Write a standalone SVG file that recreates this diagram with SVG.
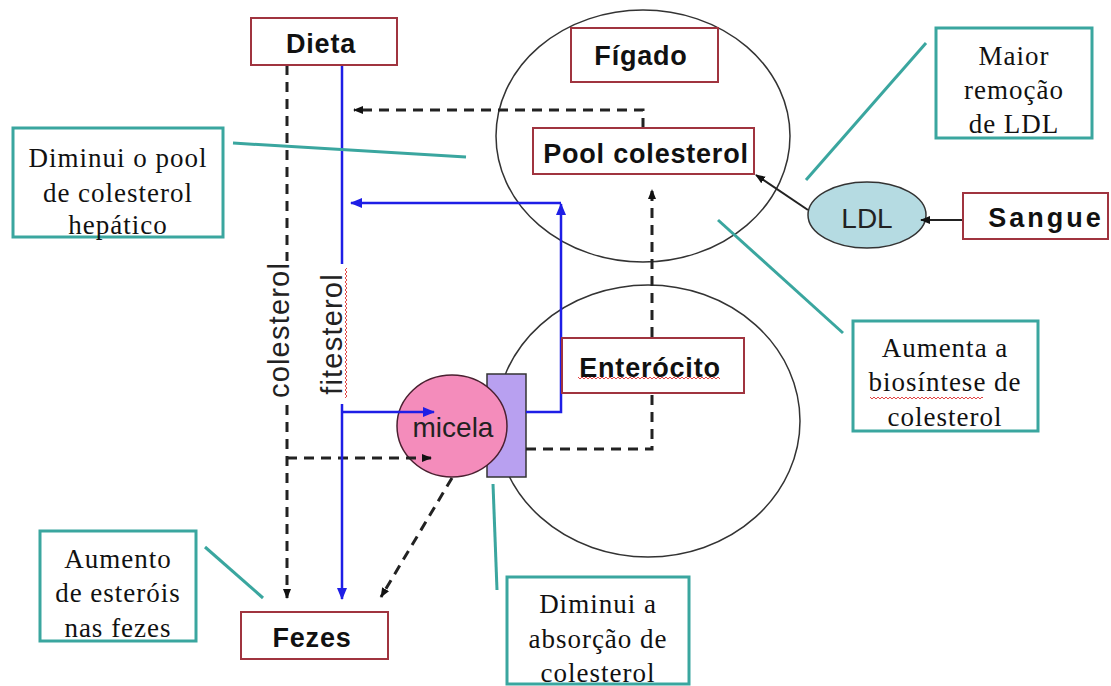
<svg xmlns="http://www.w3.org/2000/svg" width="1111" height="686" viewBox="0 0 1111 686">
<style>
.rbox{fill:#fff;stroke:#a0343f;stroke-width:2}
.tbox{fill:#fff;stroke:#3aa69f;stroke-width:3}
.lbl{font-family:"Liberation Sans",Arial,sans-serif;font-weight:bold;font-size:27px;letter-spacing:0.8px;fill:#111;text-anchor:middle}
.ser{font-family:"Liberation Serif","Times New Roman",serif;font-size:27px;letter-spacing:1px;fill:#111;text-anchor:middle}
.sans{font-family:"Liberation Sans",Arial,sans-serif;font-size:28px;fill:#222;text-anchor:middle}
.vt{font-family:"Liberation Sans",Arial,sans-serif;font-size:29px;letter-spacing:1.2px;fill:#222;text-anchor:middle}
.org{fill:none;stroke:#333;stroke-width:1.5}
.dash{fill:none;stroke:#222;stroke-width:3;stroke-dasharray:10 7}
.blue{fill:none;stroke:#1e1ee6;stroke-width:2.5}
.solid{fill:none;stroke:#222;stroke-width:2}
.teal{fill:none;stroke:#3aa69f;stroke-width:3}
</style>
<defs>
<marker id="ak" markerWidth="10" markerHeight="10" refX="9" refY="5" orient="auto" markerUnits="userSpaceOnUse" viewBox="0 0 10 10"><path d="M0,1 L10,5 L0,9 z" fill="#111"/></marker>
<marker id="ab" markerWidth="12" markerHeight="12" refX="11" refY="6" orient="auto" markerUnits="userSpaceOnUse" viewBox="0 0 12 12"><path d="M0,1 L12,6 L0,11 z" fill="#1e1ee6"/></marker>
<pattern id="wh" width="4" height="4" patternUnits="userSpaceOnUse"><path d="M0,3 L2,1 L4,3" fill="none" stroke="#e03030" stroke-width="0.9"/></pattern>
<pattern id="wv" width="4" height="4" patternUnits="userSpaceOnUse"><path d="M3,0 L1,2 L3,4" fill="none" stroke="#e03030" stroke-width="0.9"/></pattern>
</defs>
<rect width="1111" height="686" fill="#fff"/>

<g id="figado-organ"><ellipse class="org" cx="643" cy="136" rx="147" ry="126"/></g>
<g id="enterocito-organ"><ellipse class="org" cx="648" cy="421" rx="152" ry="136"/></g>
<g id="membrana"><rect x="487" y="374" width="39" height="103" fill="#b8a0f0" stroke="#333" stroke-width="1.5"/></g>
<g id="micela"><ellipse cx="452" cy="426" rx="55" ry="51" fill="#f48cbb" stroke="#4a2030" stroke-width="1.5"/><text class="sans" x="453" y="437">micela</text></g>
<g id="ldl"><ellipse cx="867" cy="215" rx="59" ry="33" fill="#b5dbe2" stroke="#333" stroke-width="1.5"/><text class="sans" x="867" y="228">LDL</text></g>

<g id="connectors">
<path class="dash" d="M287,65 V598" marker-end="url(#ak)"/>
<path class="dash" d="M287,458 H431" marker-end="url(#ak)"/>
<path class="dash" d="M643,128 V110 H354" marker-end="url(#ak)"/>
<path class="dash" d="M526,449 H652 V190" marker-end="url(#ak)"/>
<path class="dash" d="M452,478 L381,597" marker-end="url(#ak)"/>
<path class="blue" d="M342,65 V599" marker-end="url(#ab)"/>
<path class="blue" d="M342,412 H434" marker-end="url(#ab)"/>
<path class="blue" d="M526,412 H561 V204" marker-end="url(#ab)"/>
<path class="blue" d="M561,203 H351" marker-end="url(#ab)"/>
<path class="solid" d="M963,220 H921" marker-end="url(#ak)"/>
<path class="solid" d="M808,210 L756,175" marker-end="url(#ak)"/>
<path class="teal" d="M233,143 L466,157"/>
<path class="teal" d="M926,43 L806,180"/>
<path class="teal" d="M718,220 L843,333"/>
<path class="teal" d="M493,484 L497,590"/>
<path class="teal" d="M205,547 L263,598"/>
</g>

<g id="colesterol-label">
<rect x="267" y="261" width="25" height="139" fill="#fff"/>
<text class="vt" transform="translate(289,330) rotate(-90)">colesterol</text>
</g>
<g id="fitesterol-label">
<rect x="319" y="264" width="27" height="140" fill="#fff"/>
<text class="vt" transform="translate(342,334) rotate(-90)">fitesterol</text>
<rect x="344" y="268" width="4" height="130" fill="url(#wv)"/>
</g>

<g id="dieta"><rect class="rbox" x="251" y="18" width="146" height="47"/><text class="lbl" x="321" y="53">Dieta</text></g>
<g id="figado"><rect class="rbox" x="571" y="28" width="147" height="54"/><text class="lbl" x="641" y="65">Fígado</text></g>
<g id="pool"><rect class="rbox" x="533" y="128" width="221" height="46"/><text class="lbl" x="646" y="163">Pool colesterol</text></g>
<g id="enterocito"><rect class="rbox" x="562" y="338" width="182" height="55"/><text class="lbl" x="650" y="377">Enterócito</text><rect x="578" y="376" width="142" height="4" fill="url(#wh)"/></g>
<g id="fezes"><rect class="rbox" x="241" y="612" width="147" height="47"/><text class="lbl" x="312" y="647">Fezes</text></g>
<g id="sangue"><rect class="rbox" x="963" y="193" width="145" height="46"/><text class="lbl" x="1046" y="227" style="letter-spacing:3px">Sangue</text></g>

<g id="nota-pool"><rect class="tbox" x="13" y="128" width="210" height="109"/>
<text class="ser" x="118" y="167">Diminui o pool</text><text class="ser" x="118" y="202">de colesterol</text><text class="ser" x="118" y="234">hepático</text></g>
<g id="nota-ldl"><rect class="tbox" x="936" y="28" width="156" height="110"/>
<text class="ser" x="1014" y="65">Maior</text><text class="ser" x="1014" y="99">remoção</text><text class="ser" x="1014" y="133">de LDL</text></g>
<g id="nota-biossintese"><rect class="tbox" x="853" y="321" width="185" height="110"/>
<text class="ser" x="945" y="357">Aumenta a</text><text class="ser" x="945" y="391">biosíntese de</text><text class="ser" x="945" y="426">colesterol</text>
<rect x="870" y="396" width="113" height="4" fill="url(#wh)"/></g>
<g id="nota-absorcao"><rect class="tbox" x="507" y="577" width="182" height="107"/>
<text class="ser" x="598" y="613">Diminui a</text><text class="ser" x="598" y="648">absorção de</text><text class="ser" x="598" y="682">colesterol</text></g>
<g id="nota-fezes"><rect class="tbox" x="40" y="531" width="156" height="110"/>
<text class="ser" x="118" y="568">Aumento</text><text class="ser" x="118" y="602">de esteróis</text><text class="ser" x="118" y="637">nas fezes</text></g>
</svg>
